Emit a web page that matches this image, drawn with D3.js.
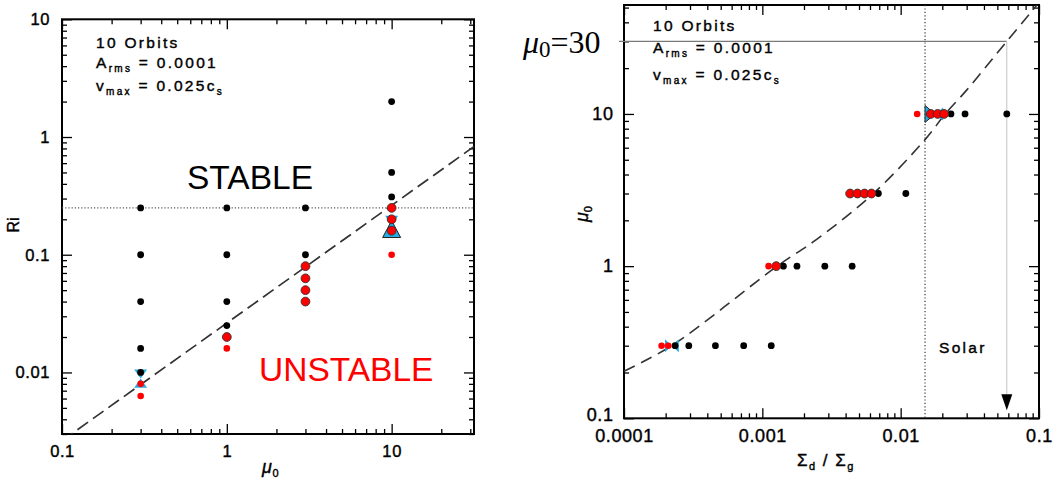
<!DOCTYPE html>
<html><head><meta charset="utf-8">
<script src="https://cdn.jsdelivr.net/npm/d3@7"></script>
<style>
html,body{margin:0;padding:0;background:#fff;}
svg{display:block;font-family:"Liberation Sans",Arial,Helvetica,sans-serif;}
.thick{stroke:#000;stroke-width:0.4px;paint-order:stroke;}
</style></head><body>
<svg id="chart" width="1054" height="480"></svg>
<script>
// ================= DATA =================
// Left panel: Ri versus mu0
const leftXTicks = [0.1, 1, 10];
const leftXTickLabels = ["0.1", "1", "10"];
const leftYTicks = [0.01, 0.1, 1, 10];
const leftYTickLabels = ["0.01", "0.1", "1", "10"];
const leftBlackMu = [0.3, 0.3, 0.3, 0.3, 0.3, 1, 1, 1, 1, 3, 3, 10, 10, 10];
const leftBlackRi = [0.25, 0.1, 0.04, 0.016, 0.01, 0.25, 0.1, 0.04, 0.025, 0.25, 0.1, 2, 0.5, 0.31];
const leftRedMu = [1, 3, 3, 3, 3, 10, 10, 10];
const leftRedRi = [0.02, 0.08, 0.063, 0.05, 0.04, 0.25, 0.2, 0.16];
const leftRedSmallMu = [0.3, 0.3, 1, 10];
const leftRedSmallRi = [0.008, 0.0063, 0.016, 0.1];
const leftTriMu = [0.3, 0.3, 10, 10];
const leftTriBase = [0.0106, 0.0074, 0.214, 0.14];
const leftTriApex = [0.0089, 0.0089, 0.176, 0.195];
const leftTriOutlined = [false, false, false, true];
const criticalRi = 0.25;
const fitMu = [0.1, 40];
const fitRi = [0.00263, 1.05];

// Right panel: mu0 versus Sigma_d / Sigma_g
const rightXTicks = [0.0001, 0.001, 0.01, 0.1];
const rightXTickLabels = ["0.0001", "0.001", "0.01", "0.1"];
const rightYTicks = [0.1, 1, 10];
const rightYTickLabels = ["0.1", "1", "10"];
const rightBlackSigma = [0.000234, 0.000294, 0.000458, 0.000733, 0.00116, 0.00142, 0.00178, 0.00283, 0.00446, 0.0069, 0.0109, 0.0231, 0.0292, 0.0585];
const rightBlackMu = [0.3, 0.3, 0.3, 0.3, 0.3, 1, 1, 1, 1, 3, 3, 10, 10, 10];
const rightRedSigma = [0.00126, 0.00431, 0.00487, 0.00548, 0.00615, 0.0165, 0.0185, 0.0206];
const rightRedMu = [1, 3, 3, 3, 3, 10, 10, 10];
const rightRedSmallSigma = [0.000187, 0.000209, 0.00111, 0.01316];
const rightRedSmallMu = [0.3, 0.3, 1, 10];
const rightTriMu = [0.3, 0.3, 10, 10];
const rightTriBase = [0.000198, 0.000249, 0.0150, 0.0203];
const rightTriApex = [0.000221, 0.000221, 0.0177, 0.0177];
const rightTriOutlined = [false, false, true, false];
const solarSigma = 0.015;
const mu30 = 30;
const mu30Sigma = 0.0585;
const curveSigma = [0.0001, 0.000221, 0.00128, 0.00247, 0.00635, 0.015, 0.021, 0.0301, 0.0585, 0.1];
const curveMu = [0.204, 0.3, 1.0, 1.5, 3.0, 6.78, 10, 14.4, 30, 54];

// ================= DRAWING =================
const svg = d3.select("#chart");
const RED = "#ff0000", BLUE = "#29aae1";

const L = {x0: 62, x1: 474, y0: 19.3, y1: 434};
const lx = d3.scaleLog().domain([0.1, 31.6]).range([L.x0, L.x1]);
const ly = d3.scaleLog().domain([0.003, 10]).range([L.y1, L.y0]);
const R = {x0: 624, x1: 1039, y0: 5, y1: 418.3};
const rx = d3.scaleLog().domain([0.0001, 0.1]).range([R.x0, R.x1]);
const ry = d3.scaleLog().domain([0.1, 52]).range([R.y1, R.y0]);

function clip(id, b) {
  svg.append("clipPath").attr("id", id).append("rect")
    .attr("x", b.x0).attr("y", b.y0).attr("width", b.x1 - b.x0).attr("height", b.y1 - b.y0);
}
clip("clipL", L); clip("clipR", R);

function axes(b, xs, ys, xT, xLab, yT, yLab, fs, padX, padY) {
  const g = svg.append("g");
  const near = (a, v) => a.some(t => Math.abs(Math.log10(t) - Math.log10(v)) < 1e-6);
  const xMin = xs.ticks().filter(v => !near(xT, v));
  const yMin = ys.ticks().filter(v => !near(yT, v));
  const clean = s => { s.select(".domain").remove(); s.attr("font-size", null).attr("font-family", null);
    s.selectAll("line").attr("stroke", "#000").attr("stroke-width", 1.3); };
  g.append("g").attr("transform", `translate(0,${b.y1})`).call(d3.axisBottom(xs).tickValues(xMin).tickSize(-5).tickSizeOuter(0).tickFormat("")).call(clean);
  g.append("g").attr("transform", `translate(0,${b.y0})`).call(d3.axisTop(xs).tickValues(xMin).tickSize(-5).tickSizeOuter(0).tickFormat("")).call(clean);
  g.append("g").attr("transform", `translate(${b.x0},0)`).call(d3.axisLeft(ys).tickValues(yMin).tickSize(-5).tickSizeOuter(0).tickFormat("")).call(clean);
  g.append("g").attr("transform", `translate(${b.x1},0)`).call(d3.axisRight(ys).tickValues(yMin).tickSize(-5).tickSizeOuter(0).tickFormat("")).call(clean);
  g.append("g").attr("transform", `translate(0,${b.y1})`).call(d3.axisBottom(xs).tickValues(xT).tickSize(-10).tickSizeOuter(0).tickPadding(padX).tickFormat((d, i) => xLab[i])).call(clean);
  g.append("g").attr("transform", `translate(0,${b.y0})`).call(d3.axisTop(xs).tickValues(xT).tickSize(-10).tickSizeOuter(0).tickFormat("")).call(clean);
  const yl = g.append("g").attr("transform", `translate(${b.x0},0)`).call(d3.axisLeft(ys).tickValues(yT).tickSize(-10).tickSizeOuter(0).tickPadding(padY).tickFormat((d, i) => yLab[i])).call(clean);
  g.append("g").attr("transform", `translate(${b.x1},0)`).call(d3.axisRight(ys).tickValues(yT).tickSize(-10).tickSizeOuter(0).tickFormat("")).call(clean);
  g.selectAll("text").attr("font-size", fs).attr("fill", "#000").attr("class", "thick").style("letter-spacing", "0.6px");
  svg.append("rect").attr("x", b.x0).attr("y", b.y0).attr("width", b.x1 - b.x0).attr("height", b.y1 - b.y0)
    .attr("fill", "none").attr("stroke", "#000").attr("stroke-width", 2);
  return yl;
}

function dots(xs, ys, X, Y, r, fill, stroke) {
  svg.append("g").selectAll("circle").data(X).join("circle")
    .attr("cx", (d) => xs(d)).attr("cy", (d, i) => ys(Y[i])).attr("r", r)
    .attr("fill", fill).attr("stroke", stroke || "none").attr("stroke-width", stroke ? 0.9 : 0);
}

function triV(xs, ys, M, B, A, O) {
  svg.append("g").selectAll("path").data(M).join("path")
    .attr("d", (m, i) => {
      const cx = xs(m), yb = ys(B[i]), ya = ys(A[i]), hw = O[i] ? 9 : 6.5;
      return `M${cx - hw},${yb}L${cx + hw},${yb}L${cx},${ya}Z`;
    })
    .attr("fill", BLUE).attr("stroke", (d, i) => O[i] ? "#222" : "none").attr("stroke-width", 1);
}
function triH(xs, ys, M, B, A, O) {
  svg.append("g").selectAll("path").data(M).join("path")
    .attr("d", (m, i) => {
      const cy = ys(m), xb = xs(B[i]), xa = xs(A[i]), hh = O[i] ? 8.5 : 6.5;
      return `M${xb},${cy - hh}L${xb},${cy + hh}L${xa},${cy}Z`;
    })
    .attr("fill", BLUE).attr("stroke", (d, i) => O[i] ? "#222" : "none").attr("stroke-width", 1);
}

function richText(x, y, parts, base, ls, extra) {
  const t = svg.append("text").attr("x", x).attr("y", y).attr("font-size", base)
    .style("letter-spacing", ls + "px").attr("fill", "#000");
  if (extra) extra(t);
  let shift = 0;
  parts.forEach(p => {
    const want = p.sub ? 4 : 0;
    const s = t.append("tspan").text(p.t).attr("dy", want - shift);
    if (p.sub) s.attr("font-size", p.fs || base * 0.66);
    if (p.italic) s.attr("font-style", "italic");
    shift = want;
  });
  return t;
}

// ---------- LEFT PANEL ----------
axes(L, lx, ly, leftXTicks, leftXTickLabels, leftYTicks, leftYTickLabels, 16.5, 11.5, 12);

svg.append("line").attr("x1", L.x0).attr("x2", L.x1).attr("y1", ly(criticalRi)).attr("y2", ly(criticalRi))
  .attr("stroke", "#555").attr("stroke-width", 1.2).attr("stroke-dasharray", "1.2,2");

svg.append("path").attr("clip-path", "url(#clipL)")
  .datum(fitMu).attr("d", d3.line().x(d => lx(d)).y((d, i) => ly(fitRi[i])))
  .attr("fill", "none").attr("stroke", "#333").attr("stroke-width", 1.7).attr("stroke-dasharray", "13,6");

triV(lx, ly, leftTriMu, leftTriBase, leftTriApex, leftTriOutlined);
dots(lx, ly, leftBlackMu, leftBlackRi, 3.4, "#000");
dots(lx, ly, leftRedMu, leftRedRi, 4.4, RED, "#333");
dots(lx, ly, leftRedSmallMu, leftRedSmallRi, 3.3, RED);

svg.append("text").attr("x", 187).attr("y", 189).attr("font-size", 33.5).attr("fill", "#000").text("STABLE");
svg.append("text").attr("x", 259).attr("y", 381).attr("font-size", 33.5).attr("fill", RED).text("UNSTABLE");

richText(96, 47.7, [{t: "10 Orbits"}], 15.5, 2.3).attr("class", "thick");
richText(96, 67.7, [{t: "A"}, {t: "rms", sub: true, fs: 10}, {t: " = 0.0001"}], 15.5, 2.3).attr("class", "thick");
richText(96, 91, [{t: "v"}, {t: "max", sub: true, fs: 10}, {t: " = 0.025c"}, {t: "s", sub: true, fs: 10}], 15.5, 2.3).attr("class", "thick");

svg.append("text").attr("transform", "translate(19,225) rotate(-90)").attr("text-anchor", "middle")
  .attr("font-size", 16).attr("fill", "#000").attr("class", "thick").text("Ri");
richText(262, 473, [{t: "μ", italic: true}, {t: "0", sub: true, fs: 11}], 18, 0.5).attr("class", "thick");

// ---------- RIGHT PANEL ----------
const ryAxis = axes(R, rx, ry, rightXTicks, rightXTickLabels, rightYTicks, rightYTickLabels, 18, 11, 10.5);
ryAxis.selectAll("text").filter((d) => d === 0.1).attr("dy", "0.1em");

svg.append("line").attr("x1", rx(solarSigma)).attr("x2", rx(solarSigma)).attr("y1", R.y0).attr("y2", R.y1)
  .attr("stroke", "#333").attr("stroke-width", 1.2).attr("stroke-dasharray", "1.2,2.2");

svg.append("line").attr("x1", R.x0 - 5).attr("x2", rx(mu30Sigma)).attr("y1", ry(mu30)).attr("y2", ry(mu30))
  .attr("stroke", "#7a7a7a").attr("stroke-width", 1.3);
svg.append("line").attr("x1", rx(mu30Sigma)).attr("x2", rx(mu30Sigma)).attr("y1", ry(mu30)).attr("y2", R.y1 - 24)
  .attr("stroke", "#c4c4c4").attr("stroke-width", 1);
svg.append("path").attr("d", `M${rx(mu30Sigma) - 5.5},${R.y1 - 24}L${rx(mu30Sigma) + 5.5},${R.y1 - 24}L${rx(mu30Sigma)},${R.y1 - 8}Z`)
  .attr("fill", "#000");

svg.append("path").attr("clip-path", "url(#clipR)")
  .datum(curveSigma).attr("d", d3.line().x(d => rx(d)).y((d, i) => ry(curveMu[i])).curve(d3.curveCatmullRom))
  .attr("fill", "none").attr("stroke", "#333").attr("stroke-width", 1.6).attr("stroke-dasharray", "12,7");

triH(rx, ry, rightTriMu, rightTriBase, rightTriApex, rightTriOutlined);
dots(rx, ry, rightBlackSigma, rightBlackMu, 3.4, "#000");
dots(rx, ry, rightRedSigma, rightRedMu, 4.4, RED, "#333");
dots(rx, ry, rightRedSmallSigma, rightRedSmallMu, 3.3, RED);

richText(653, 30.7, [{t: "10 Orbits"}], 15.5, 2.3).attr("class", "thick");
richText(653, 52.7, [{t: "A"}, {t: "rms", sub: true, fs: 10}, {t: " = 0.0001"}], 15.5, 2.3).attr("class", "thick");
richText(653, 80, [{t: "v"}, {t: "max", sub: true, fs: 10}, {t: " = 0.025c"}, {t: "s", sub: true, fs: 10}], 15.5, 2.3).attr("class", "thick");
richText(939, 353, [{t: "Solar"}], 15.5, 2.3).attr("class", "thick");

richText(523, 53.3, [{t: "μ", italic: true}, {t: "0", sub: true, fs: 23}, {t: "=30"}], 32, 0,
  t => t.attr("font-family", "'Liberation Serif','Times New Roman',serif"));

svg.append("text").attr("transform", "translate(588,214) rotate(-90)").attr("class", "thick")
  .call(t => { t.append("tspan").attr("font-style", "italic").attr("font-size", 18).text("μ");
               t.append("tspan").attr("font-size", 11).attr("dy", 4).text("0"); })
  .attr("text-anchor", "middle").attr("fill", "#000");

richText(797, 466, [{t: "Σ"}, {t: "d", sub: true, fs: 11}, {t: " / Σ"}, {t: "g", sub: true, fs: 11}], 17, 1.5).attr("class", "thick");
</script>
</body></html>
